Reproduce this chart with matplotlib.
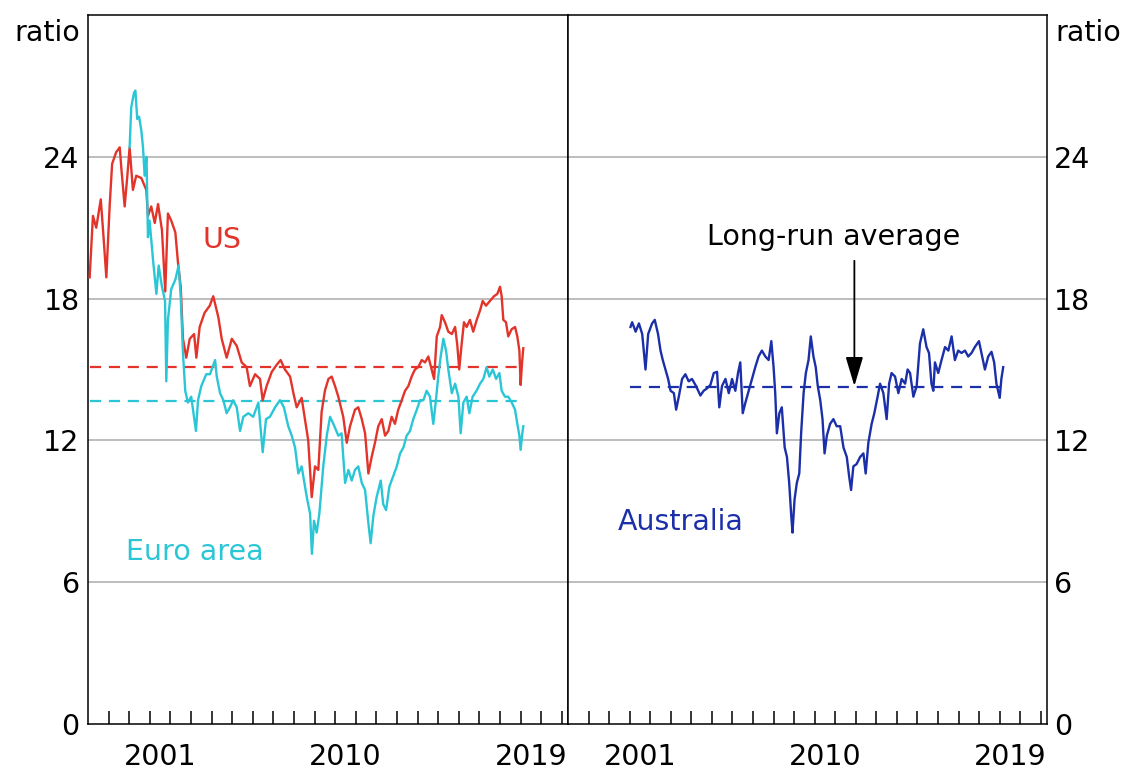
import matplotlib
matplotlib.use("Agg")
import matplotlib.pyplot as plt

plt.rcParams['font.family'] = ['DejaVu Sans']

# ---------------- data ----------------
us_years = [1998.08, 1998.24, 1998.40, 1998.62, 1998.73, 1998.89, 1999.05, 1999.17, 1999.37, 1999.54,
            1999.62, 1999.78, 1999.91, 2000.02, 2000.18, 2000.34, 2000.59, 2000.83, 2000.91, 2001.07,
            2001.24, 2001.40, 2001.59, 2001.75, 2001.88, 2002.04, 2002.24, 2002.37, 2002.50, 2002.61,
            2002.77, 2002.94, 2003.15, 2003.26, 2003.42, 2003.66, 2003.91, 2004.08, 2004.33, 2004.49,
            2004.73, 2004.98, 2005.22, 2005.46, 2005.70, 2005.86, 2006.11, 2006.35, 2006.48, 2006.67,
            2006.92, 2007.16, 2007.35, 2007.56, 2007.81, 2007.97, 2008.13, 2008.37, 2008.53, 2008.69,
            2008.86, 2009.02, 2009.18, 2009.34, 2009.50, 2009.67, 2009.83, 2009.99, 2010.15, 2010.39,
            2010.56, 2010.72, 2010.96, 2011.12, 2011.29, 2011.45, 2011.61, 2011.77, 2011.93, 2012.09,
            2012.26, 2012.42, 2012.58, 2012.74, 2012.90, 2013.06, 2013.23, 2013.39, 2013.55, 2013.71,
            2013.87, 2014.03, 2014.20, 2014.36, 2014.52, 2014.68, 2014.80, 2014.93, 2015.09, 2015.17,
            2015.33, 2015.49, 2015.66, 2015.82, 2015.93, 2016.02, 2016.14, 2016.25, 2016.38, 2016.54,
            2016.70, 2016.87, 2017.03, 2017.16, 2017.32, 2017.51, 2017.71, 2017.87, 2018.00, 2018.08,
            2018.16, 2018.29, 2018.40, 2018.56, 2018.73, 2018.84, 2018.94, 2019.00, 2019.07, 2019.13]
us_values = [18.9, 21.5, 21.0, 22.2, 20.9, 18.9, 21.9, 23.7, 24.2, 24.4,
             23.5, 21.9, 23.2, 24.4, 22.6, 23.2, 23.1, 22.6, 21.5, 21.9,
             21.2, 22.0, 20.9, 18.3, 21.6, 21.3, 20.8, 19.5, 18.5, 16.3,
             15.5, 16.3, 16.5, 15.5, 16.8, 17.4, 17.7, 18.1, 17.2, 16.3,
             15.5, 16.3, 16.0, 15.3, 15.1, 14.3, 14.8, 14.6, 13.7, 14.3,
             14.9, 15.2, 15.4, 15.0, 14.7, 14.0, 13.4, 13.8, 12.9, 12.0,
             9.6, 10.9, 10.75, 13.2, 14.1, 14.6, 14.7, 14.3, 13.85, 13.0,
             11.9, 12.6, 13.3, 13.4, 12.9, 12.3, 10.6, 11.3, 11.9, 12.6,
             12.9, 12.2, 12.4, 13.0, 12.7, 13.3, 13.7, 14.1, 14.3, 14.7,
             15.0, 15.1, 15.4, 15.3, 15.55, 15.0, 14.6, 16.4, 16.8, 17.3,
             17.0, 16.6, 16.5, 16.8, 16.0, 15.0, 16.1, 17.0, 16.8, 17.1,
             16.6, 17.1, 17.5, 17.9, 17.7, 17.9, 18.1, 18.2, 18.5, 18.1,
             17.1, 17.0, 16.4, 16.7, 16.8, 16.4, 15.8, 14.35, 15.3, 15.9]

euro_years = [2000.02, 2000.10, 2000.23, 2000.30, 2000.39, 2000.48, 2000.59, 2000.67, 2000.75, 2000.84,
              2000.91, 2000.99, 2001.16, 2001.32, 2001.43, 2001.59, 2001.74, 2001.80, 2001.88, 2002.04,
              2002.24, 2002.40, 2002.50, 2002.61, 2002.72, 2002.85, 2003.01, 2003.24, 2003.34, 2003.50,
              2003.74, 2003.92, 2004.17, 2004.25, 2004.41, 2004.57, 2004.73, 2004.89, 2005.05, 2005.22,
              2005.38, 2005.54, 2005.78, 2006.02, 2006.27, 2006.48, 2006.64, 2006.83, 2007.08, 2007.32,
              2007.51, 2007.72, 2007.89, 2008.05, 2008.21, 2008.37, 2008.53, 2008.62, 2008.78, 2008.87,
              2008.97, 2009.10, 2009.23, 2009.42, 2009.59, 2009.75, 2009.91, 2010.15, 2010.31, 2010.48,
              2010.64, 2010.80, 2010.96, 2011.12, 2011.29, 2011.45, 2011.61, 2011.72, 2011.85, 2012.01,
              2012.21, 2012.33, 2012.47, 2012.63, 2012.82, 2012.99, 2013.15, 2013.31, 2013.47, 2013.63,
              2013.79, 2013.96, 2014.12, 2014.28, 2014.44, 2014.60, 2014.76, 2014.89, 2015.00, 2015.12,
              2015.25, 2015.38, 2015.49, 2015.66, 2015.82, 2015.98, 2016.09, 2016.22, 2016.38, 2016.51,
              2016.67, 2016.86, 2017.03, 2017.19, 2017.35, 2017.48, 2017.65, 2017.81, 2017.97, 2018.08,
              2018.24, 2018.40, 2018.57, 2018.73, 2018.84, 2018.94, 2019.00, 2019.07, 2019.13]
euro_values = [24.4, 26.1, 26.7, 26.8, 25.6, 25.7, 25.1, 24.4, 23.2, 24.0,
               20.6, 21.3, 19.6, 18.2, 19.4, 18.5, 17.9, 14.5, 17.1, 18.4,
               18.8, 19.4, 18.1, 15.7, 14.1, 13.6, 13.85, 12.4, 13.7, 14.3,
               14.8, 14.8, 15.4, 14.7, 14.0, 13.7, 13.15, 13.4, 13.7, 13.4,
               12.4, 13.0, 13.15, 13.0, 13.6, 11.5, 12.9, 13.0, 13.4, 13.7,
               13.4, 12.6, 12.2, 11.7, 10.6, 10.9, 10.05, 9.6, 8.9, 7.2,
               8.6, 8.1, 8.9, 10.9, 12.2, 13.0, 12.7, 12.2, 12.3, 10.2,
               10.75, 10.3, 10.75, 10.9, 10.2, 9.9, 8.5, 7.65, 8.8, 9.6,
               10.3, 9.3, 9.05, 10.05, 10.5, 10.9, 11.45, 11.7, 12.2, 12.4,
               12.9, 13.3, 13.7, 13.7, 14.1, 13.85, 12.7, 13.7, 14.7, 15.55,
               16.3, 15.8, 15.0, 14.0, 14.4, 13.85, 12.3, 13.6, 13.85, 13.15,
               13.85, 14.1, 14.4, 14.6, 15.1, 14.7, 15.0, 14.6, 14.85, 14.1,
               13.85, 13.85, 13.6, 13.3, 12.7, 12.2, 11.6, 12.2, 12.6]

aus_years = [2001.04, 2001.12, 2001.29, 2001.45, 2001.61, 2001.77, 2001.90, 2002.09, 2002.22, 2002.38,
             2002.50, 2002.61, 2002.74, 2002.87, 2002.99, 2003.15, 2003.26, 2003.39, 2003.55, 2003.71,
             2003.87, 2004.03, 2004.23, 2004.44, 2004.60, 2004.76, 2004.93, 2005.09, 2005.25, 2005.36,
             2005.49, 2005.66, 2005.82, 2005.98, 2006.14, 2006.27, 2006.38, 2006.50, 2006.63, 2006.79,
             2006.95, 2007.11, 2007.27, 2007.43, 2007.60, 2007.76, 2007.89, 2008.00, 2008.08, 2008.16,
             2008.28, 2008.40, 2008.54, 2008.65, 2008.76, 2008.86, 2008.92, 2009.02, 2009.13, 2009.25,
             2009.34, 2009.46, 2009.57, 2009.70, 2009.81, 2009.94, 2010.05, 2010.15, 2010.27, 2010.38,
             2010.48, 2010.59, 2010.75, 2010.91, 2011.07, 2011.24, 2011.40, 2011.56, 2011.68, 2011.77,
             2011.88, 2012.04, 2012.21, 2012.37, 2012.48, 2012.61, 2012.77, 2012.90, 2013.06, 2013.18,
             2013.34, 2013.50, 2013.62, 2013.74, 2013.91, 2014.07, 2014.23, 2014.40, 2014.52, 2014.64,
             2014.80, 2014.96, 2015.12, 2015.28, 2015.44, 2015.56, 2015.68, 2015.77, 2015.85, 2016.01,
             2016.17, 2016.34, 2016.50, 2016.66, 2016.82, 2016.98, 2017.14, 2017.31, 2017.47, 2017.63,
             2017.79, 2017.99, 2018.11, 2018.28, 2018.44, 2018.60, 2018.73, 2018.84, 2018.92, 2019.00,
             2019.08, 2019.17]
aus_values = [16.8, 17.0, 16.6, 16.95, 16.5, 15.0, 16.5, 16.95, 17.1, 16.5,
              15.8, 15.4, 15.0, 14.6, 14.1, 14.0, 13.3, 13.85, 14.6, 14.8,
              14.5, 14.6, 14.3, 13.9, 14.1, 14.2, 14.35, 14.85, 14.9, 13.4,
              14.3, 14.6, 14.0, 14.6, 14.1, 14.85, 15.3, 13.15, 13.6, 14.1,
              14.6, 15.1, 15.55, 15.8, 15.55, 15.4, 16.2, 15.1, 14.0, 12.3,
              13.15, 13.4, 11.7, 11.3, 10.2, 8.8, 8.1, 9.5, 10.2, 10.6,
              12.3, 14.0, 14.85, 15.4, 16.4, 15.55, 15.1, 14.3, 13.7, 12.9,
              11.45, 12.2, 12.7, 12.9, 12.6, 12.6, 11.7, 11.3, 10.45, 9.9,
              10.9, 11.0, 11.3, 11.45, 10.6, 11.9, 12.7, 13.15, 13.85, 14.4,
              14.0, 12.9, 14.4, 14.85, 14.7, 14.0, 14.6, 14.4, 15.0, 14.85,
              13.85, 14.3, 16.1, 16.7, 15.95, 15.7, 14.4, 14.1, 15.3, 14.85,
              15.4, 15.95, 15.8, 16.4, 15.4, 15.8, 15.7, 15.8, 15.55, 15.7,
              15.95, 16.2, 15.7, 15.0, 15.55, 15.75, 15.3, 14.4, 14.1, 13.8,
              14.6, 15.1]

us_avg = 15.1
euro_avg = 13.65
aus_avg = 14.25

y_ticks = [0, 6, 12, 18, 24]
x_label_years = [2001, 2010, 2019]

# ---------------- style ----------------
US_C = '#e2342a'
EU_C = '#2bc6d6'
AU_C = '#1b2fa8'
FS = 20.5
W, H = 1124, 774

fig = plt.figure(figsize=(W / 100, H / 100), dpi=100)
left_px, mid_px, right_px, top_px, bot_px = 88, 568, 1047, 15, 724
ax1 = fig.add_axes([left_px / W, 1 - bot_px / H, (mid_px - left_px) / W, (bot_px - top_px) / H])
ax2 = fig.add_axes([mid_px / W, 1 - bot_px / H, (right_px - mid_px) / W, (bot_px - top_px) / H])

for ax in (ax1, ax2):
    ax.set_xlim(1998, 2021.3)
    ax.set_ylim(0, 30)
    ax.set_yticks(y_ticks)
    for y in y_ticks[1:]:
        ax.axhline(y, color='#ababab', lw=1.1, zorder=0)
    ax.set_xticks(list(range(1999, 2022)))
    ax.set_xticklabels([])
    ax.set_xticks([y + 0.5 for y in x_label_years], minor=True)
    ax.set_xticklabels([str(y) for y in x_label_years], minor=True, fontsize=FS)
    ax.tick_params(axis='x', which='major', direction='in', length=9.5, width=1.1, color='black')
    ax.tick_params(axis='x', which='minor', length=0, pad=14)
    for s in ax.spines.values():
        s.set_linewidth(1.1)
        s.set_color('black')

ax1.tick_params(axis='y', length=0, pad=6, labelsize=FS, left=False, labelleft=True)
ax2.tick_params(axis='y', length=0, pad=5, labelsize=FS, left=False, labelleft=False,
                right=False, labelright=True)

# series
ax1.plot(us_years, us_values, color=US_C, lw=1.7, zorder=3)
ax1.plot(euro_years, euro_values, color=EU_C, lw=1.7, zorder=3)
ax1.plot([us_years[0], us_years[-1]], [us_avg, us_avg], color=US_C, lw=1.6, dashes=(5, 3.5), zorder=2)
ax1.plot([us_years[0], euro_years[-1]], [euro_avg, euro_avg], color=EU_C, lw=1.6, dashes=(5, 3.5), zorder=2)
ax2.plot(aus_years, aus_values, color=AU_C, lw=1.7, zorder=3)
ax2.plot([aus_years[0], aus_years[-1]], [aus_avg, aus_avg], color=AU_C, lw=1.6, dashes=(5, 3.5), zorder=2)

# labels
ax1.text(2004.5, 20.5, 'US', color=US_C, fontsize=FS, ha='center', va='center')
ax1.text(2003.2, 7.28, 'Euro area', color=EU_C, fontsize=FS, ha='center', va='center')
ax2.text(2003.5, 8.55, 'Australia', color=AU_C, fontsize=FS, ha='center', va='center')
ax2.text(2010.9, 20.6, 'Long-run average', color='black', fontsize=FS, ha='center', va='center')
ax2.annotate('', xy=(2011.93, 14.3), xytext=(2011.93, 19.6),
             arrowprops=dict(arrowstyle='-|>,head_length=0.9,head_width=0.27', mutation_scale=20,
                             lw=1.3, color='black', shrinkA=0, shrinkB=0))

fig.text(80 / W, 1 - 33 / H, 'ratio', fontsize=FS, ha='right', va='center')
fig.text(1055 / W, 1 - 33 / H, 'ratio', fontsize=FS, ha='left', va='center')

fig.savefig('out.png', dpi=100)
